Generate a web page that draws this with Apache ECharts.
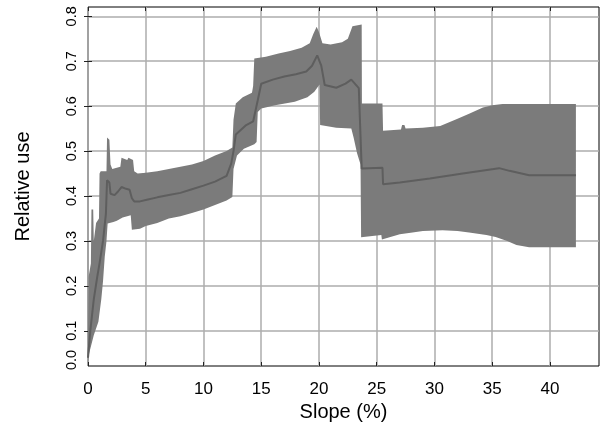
<!DOCTYPE html>
<html>
<head>
<meta charset="utf-8">
<script src="https://cdn.jsdelivr.net/npm/echarts@6/dist/echarts.min.js"></script>
<style>
html,body{margin:0;padding:0;background:#fff;}
#chart{width:607px;height:428px;}
</style>
</head>
<body>
<div id="chart"></div>
<script>
// Axis extents and tick labels
var xMin = 0, xMax = 44.25;
var yMin = 0.0216, yMax = 0.8207;
var xTicks = [0, 5, 10, 15, 20, 25, 30, 35, 40];
var yTicks = [0.1, 0.2, 0.3, 0.4, 0.5, 0.6, 0.7, 0.8];

// Upper bound of the confidence band
var upperX = [0.0, 0.05, 0.25, 0.3, 0.45, 0.5, 0.7, 0.95, 1.0, 1.1, 1.6, 1.65, 1.85, 1.95, 2.1, 2.8, 2.9, 3.4, 3.5, 3.9, 4.0, 4.3, 5.0, 6.0, 7.0, 8.0, 9.0, 10.0, 11.0, 12.0, 12.5, 12.6, 12.8, 13.4, 14.2, 14.3, 14.4, 15.4, 16.5, 17.5, 18.5, 19.2, 19.5, 19.8, 20.0, 20.3, 21.0, 22.0, 22.5, 22.9, 23.7, 23.72, 25.5, 25.55, 27.1, 27.2, 27.4, 27.5, 29.0, 30.5, 32.0, 33.0, 34.2, 35.0, 35.9, 42.25];
var upperY = [0.10, 0.22, 0.25, 0.37, 0.37, 0.30, 0.34, 0.35, 0.45, 0.455, 0.455, 0.53, 0.525, 0.47, 0.46, 0.465, 0.485, 0.48, 0.485, 0.48, 0.455, 0.45, 0.452, 0.455, 0.46, 0.465, 0.47, 0.478, 0.49, 0.50, 0.508, 0.57, 0.606, 0.62, 0.63, 0.645, 0.706, 0.71, 0.717, 0.723, 0.73, 0.74, 0.76, 0.777, 0.765, 0.74, 0.737, 0.742, 0.75, 0.778, 0.782, 0.606, 0.606, 0.545, 0.548, 0.558, 0.558, 0.55, 0.552, 0.556, 0.572, 0.583, 0.597, 0.602, 0.605, 0.605];

// Lower bound of the confidence band
var lowerX = [0.0, 0.1, 0.3, 0.5, 0.9, 1.15, 1.3, 1.45, 1.6, 1.7, 2.2, 2.5, 3.0, 3.7, 3.8, 4.5, 5.0, 6.0, 7.0, 8.0, 9.0, 10.0, 11.0, 12.0, 12.5, 12.6, 12.9, 13.5, 14.4, 14.6, 14.7, 15.0, 16.2, 17.9, 19.0, 19.6, 20.05, 20.1, 21.5, 22.8, 23.0, 23.3, 23.6, 23.65, 25.4, 25.45, 27.0, 28.1, 29.0, 30.7, 32.0, 33.0, 34.5, 35.3, 36.3, 37.1, 38.2, 42.25];
var lowerY = [0.03, 0.05, 0.07, 0.09, 0.12, 0.17, 0.21, 0.265, 0.30, 0.339, 0.342, 0.345, 0.352, 0.357, 0.325, 0.327, 0.333, 0.34, 0.35, 0.355, 0.362, 0.37, 0.38, 0.39, 0.398, 0.46, 0.49, 0.505, 0.515, 0.52, 0.587, 0.595, 0.602, 0.61, 0.62, 0.632, 0.648, 0.558, 0.552, 0.55, 0.53, 0.495, 0.47, 0.308, 0.313, 0.303, 0.315, 0.319, 0.322, 0.324, 0.322, 0.319, 0.313, 0.309, 0.30, 0.291, 0.286, 0.286];

// Mean relative use
var meanX = [0.0, 0.2, 0.5, 0.8, 1.0, 1.3, 1.55, 1.65, 1.85, 1.95, 2.3, 2.6, 2.9, 3.3, 3.6, 3.8, 4.0, 4.5, 5.0, 6.0, 7.0, 8.0, 9.0, 10.0, 11.0, 12.0, 12.4, 12.6, 12.8, 13.7, 14.3, 14.7, 15.0, 16.0, 17.0, 18.0, 18.9, 19.4, 19.85, 20.2, 20.5, 21.5, 22.3, 22.8, 23.45, 23.7, 25.5, 25.55, 27.0, 29.6, 32.45, 35.6, 36.5, 38.2, 42.25];
var meanY = [0.04, 0.10, 0.17, 0.22, 0.25, 0.30, 0.36, 0.435, 0.43, 0.405, 0.402, 0.41, 0.42, 0.416, 0.414, 0.395, 0.388, 0.388, 0.391, 0.397, 0.402, 0.407, 0.415, 0.423, 0.432, 0.445, 0.472, 0.50, 0.537, 0.558, 0.566, 0.613, 0.65, 0.659, 0.666, 0.671, 0.677, 0.69, 0.713, 0.69, 0.647, 0.641, 0.65, 0.659, 0.64, 0.461, 0.463, 0.426, 0.43, 0.439, 0.45, 0.462, 0.456, 0.446, 0.446];

var bandPoints = upperX.map(function (x, i) { return [x, upperY[i]]; })
  .concat(lowerX.map(function (x, i) { return [x, lowerY[i]]; }).reverse());
var meanData = meanX.map(function (x, i) { return [x, meanY[i]]; });

var FONT = '"Liberation Sans", Arial, sans-serif';
var chart = echarts.init(document.getElementById('chart'), null, {renderer: 'canvas'});
var tickStyle = {show: true, inside: true, length: 4, lineStyle: {color: '#222', width: 1}};
chart.setOption({
  animation: false,
  backgroundColor: '#ffffff',
  grid: {left: 88, right: 8, top: 7, bottom: 62, show: true, borderColor: '#000', borderWidth: 1, backgroundColor: 'transparent'},
  xAxis: [{
    type: 'value', min: xMin, max: xMax, position: 'bottom',
    name: 'Slope (%)', nameLocation: 'middle', nameGap: 32,
    nameTextStyle: {fontFamily: FONT, fontSize: 20, color: '#000'},
    axisLine: {show: false},
    axisTick: Object.assign({customValues: xTicks}, tickStyle),
    axisLabel: {customValues: xTicks, fontFamily: FONT, fontSize: 17, color: '#000', margin: 15,
      formatter: function (v) { return String(Math.round(v)); }},
    splitLine: {show: true, lineStyle: {color: '#adadad', width: 1.5}}
  }, {
    type: 'value', min: xMin, max: xMax, position: 'top',
    axisLine: {show: false},
    axisTick: Object.assign({customValues: xTicks}, tickStyle),
    axisLabel: {show: false}, splitLine: {show: false}
  }],
  yAxis: [{
    type: 'value', min: yMin, max: yMax, position: 'left',
    name: 'Relative use', nameLocation: 'middle', nameGap: 55, nameRotate: 90,
    nameTextStyle: {fontFamily: FONT, fontSize: 20, color: '#000'},
    axisLine: {show: false},
    axisTick: Object.assign({customValues: yTicks}, tickStyle),
    axisLabel: {customValues: [yMin].concat(yTicks), rotate: 90, fontFamily: FONT, fontSize: 14.5, color: '#000', margin: 9,
      formatter: function (v) { return v < 0.05 ? '{z|0.0}' : v.toFixed(1); },
      rich: {z: {fontFamily: FONT, fontSize: 14.5, color: '#000', padding: [0, 0, 0, 12]}}},
    splitLine: {show: true, lineStyle: {color: '#adadad', width: 1.5}}
  }, {
    type: 'value', min: yMin, max: yMax, position: 'right',
    axisLine: {show: false},
    axisTick: Object.assign({customValues: yTicks}, tickStyle),
    axisLabel: {show: false}, splitLine: {show: false}
  }],
  series: [{
    type: 'custom',
    name: 'band',
    xAxisIndex: 0, yAxisIndex: 0,
    data: bandPoints,
    clip: true,
    silent: true,
    z: 2,
    renderItem: function (params, api) {
      if (params.dataIndex !== 0) return null;
      var pts = bandPoints.map(function (p) { return api.coord(p); });
      return {type: 'polygon', shape: {points: pts}, style: {fill: '#7b7b7b', stroke: null}};
    }
  }, {
    type: 'line',
    name: 'mean',
    xAxisIndex: 0, yAxisIndex: 0,
    data: meanData,
    showSymbol: false,
    symbol: 'none',
    z: 3,
    lineStyle: {color: '#5e5e5e', width: 2}
  }]
});
</script>
</body>
</html>
